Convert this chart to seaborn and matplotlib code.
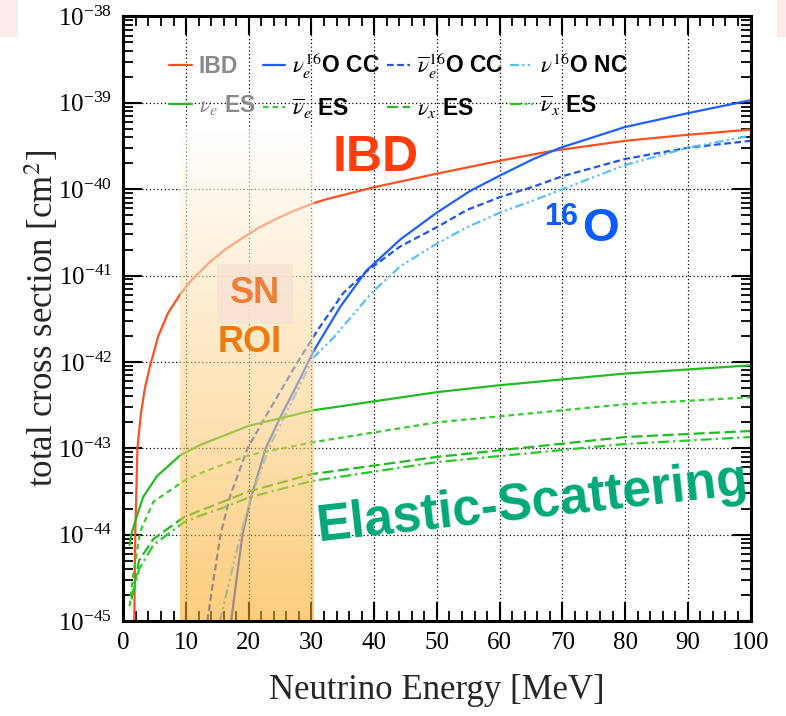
import numpy as np
import pandas as pd
import matplotlib
matplotlib.use("Agg")
import matplotlib.pyplot as plt
import seaborn as sns
from matplotlib.lines import Line2D
from matplotlib.patches import Rectangle
from matplotlib.ticker import LogLocator, MultipleLocator, NullFormatter

# Neutrino energy [MeV] and log10(cross section / cm^2)
ibd_E = [1.75, 1.9, 2.25, 2.8, 3.45, 4.25, 5.57, 7.17, 9.03, 10.9, 13.55, 16.2, 18.9, 21.5,
         24.2, 26.9, 30, 32.2, 39.8, 50, 60.1, 68.1, 80, 90, 100]
ibd_log = [-45.0, -44.0, -43.0, -42.6, -42.3, -42.05, -41.70, -41.43, -41.22, -41.05, -40.86,
           -40.70, -40.57, -40.45, -40.35, -40.26, -40.17, -40.12, -39.98, -39.82, -39.67,
           -39.56, -39.44, -39.37, -39.31]

o16_nue_E = [17.2, 17.9, 19.0, 20.4, 22.7, 25.1, 28, 30.3, 34.6, 38.8, 44.2, 50, 55.3, 60.1,
             65.4, 69.7, 80, 90, 100]
o16_nue_log = [-45.0, -44.6, -44.0, -43.56, -43.0, -42.63, -42.22, -41.88, -41.36, -40.94,
               -40.58, -40.27, -40.02, -39.84, -39.65, -39.52, -39.28, -39.12, -38.97]

o16_nuebar_E = [13.4, 14.2, 15.5, 17.0, 19.8, 22.7, 27.8, 31.0, 35.1, 38.8, 44.2, 50, 54.8,
                60.1, 65.4, 70, 80, 90, 100]
o16_nuebar_log = [-45.0, -44.6, -44.0, -43.56, -43.0, -42.63, -42.0, -41.63, -41.2, -40.95,
                  -40.66, -40.44, -40.24, -40.09, -39.97, -39.85, -39.65, -39.52, -39.44]

o16_nc_E = [15.4, 18.7, 20.4, 23.2, 30.3, 33.5, 39.6, 44.2, 50, 54.8, 60.1, 65.4, 70, 80,
            90, 100]
o16_nc_log = [-45.0, -44.0, -43.56, -43.0, -41.95, -41.72, -41.2, -40.89, -40.63, -40.44,
              -40.27, -40.13, -40.0, -39.72, -39.52, -39.38]

es_nue_E = [1.0, 1.25, 2.4, 3.2, 5.4, 9.1, 12.3, 20, 30.3, 50, 60, 80, 100]
es_nue_log = [-44.12, -44.0, -43.73, -43.56, -43.32, -43.08, -42.96, -42.74, -42.56,
              -42.35, -42.27, -42.135, -42.04]

es_nuebar_E = [1.0, 1.6, 2.7, 4.8, 9.6, 12.3, 15.5, 20, 30.2, 50, 80, 100]
es_nuebar_log = [-44.83, -44.45, -43.96, -43.62, -43.38, -43.29, -43.2, -43.08, -42.93,
                 -42.7, -42.49, -42.41]

es_nux_E = [1.3, 2.5, 4.8, 9.6, 12.3, 15.5, 20, 30, 50, 80, 100]
es_nux_log = [-44.75, -44.3, -44.05, -43.8, -43.72, -43.63, -43.5, -43.3, -43.1, -42.87, -42.8]

es_nuxbar_E = [1.5, 2.5, 4.8, 9.6, 12.3, 15.5, 20, 30, 50, 80, 100]
es_nuxbar_log = [-44.7, -44.4, -44.12, -43.86, -43.78, -43.7, -43.57, -43.38, -43.16, -42.95, -42.87]

roi_range = (9.0, 30.4)
roi_top_log = -39.29

sns.set_theme(style="ticks")
plt.rcParams["font.family"] = ["Liberation Serif", "DejaVu Serif"]
plt.rcParams["mathtext.fontset"] = "stix"

fig = plt.figure(figsize=(7.86, 7.16), dpi=100)
ax = fig.add_axes([0.1569, 0.1327, 0.798, 0.8443])

# faint pink patches in the top corners of the original screenshot
fig.patches.append(Rectangle((0, 1 - 36 / 716), 17 / 786, 36 / 716, transform=fig.transFigure,
                             color="#fcebeb", zorder=0))
fig.patches.append(Rectangle((777 / 786, 1 - 36 / 716), 9 / 786, 36 / 716, transform=fig.transFigure,
                             color="#fcebeb", zorder=0))

curves = [
    ("IBD", ibd_E, ibd_log, "#ff5020", "-"),
    ("nue_O", o16_nue_E, o16_nue_log, "#1f5fff", "-"),
    ("nuebar_O", o16_nuebar_E, o16_nuebar_log, "#1f55e8", (0, (3, 1.6))),
    ("nc_O", o16_nc_E, o16_nc_log, "#55bfff", (0, (4, 1.5, 1, 1.5, 1, 1.5))),
    ("nue_ES", es_nue_E, es_nue_log, "#22bb22", "-"),
    ("nuebar_ES", es_nuebar_E, es_nuebar_log, "#33cc33", (0, (2.5, 1.8))),
    ("nux_ES", es_nux_E, es_nux_log, "#22bb22", (0, (5, 2))),
    ("nuxbar_ES", es_nuxbar_E, es_nuxbar_log, "#22cc22", (0, (5, 1.8, 1, 1.8))),
]

for name, E, lg, col, ls in curves:
    df = pd.DataFrame({"E": E, "sigma": 10.0 ** np.array(lg)})
    sns.lineplot(data=df, x="E", y="sigma", ax=ax, color=col, linestyle=ls, lw=1.6,
                 sort=False, zorder=2)

ax.set_yscale("log")
ax.set_xlim(0, 100)
ax.set_ylim(1e-45, 1e-38)

# SN region of interest: band going from white (top) to orange (bottom), laid over the curves
n_slices = 120
edges = np.linspace(roi_top_log, -45.0, n_slices + 1)
top_c = np.array([1.0, 1.0, 1.0])
bot_c = np.array([250, 168, 28]) / 255
for i in range(n_slices):
    f = (i + 0.5) / n_slices
    ax.fill_between(list(roi_range), 10 ** edges[i + 1], 10 ** edges[i],
                    color=top_c + f * (bot_c - top_c), alpha=0.57, lw=0, zorder=3)

# grid and ROOT-like ticks
ax.grid(True, which="major", color="black", linestyle=(0, (1, 2)), linewidth=0.9)
ax.xaxis.set_major_locator(MultipleLocator(10))
ax.xaxis.set_minor_locator(MultipleLocator(2))
ax.yaxis.set_major_locator(LogLocator(base=10, numticks=20))
ax.yaxis.set_minor_locator(LogLocator(base=10, subs=np.arange(2, 10), numticks=20))
ax.yaxis.set_minor_formatter(NullFormatter())
ax.tick_params(which="both", direction="in", top=True, right=True, colors="black")
ax.tick_params(which="major", length=14, width=1.5, labelsize=18, pad=8)
ax.tick_params(which="minor", length=7, width=1.3)
for sp in ax.spines.values():
    sp.set_linewidth(2.2)
    sp.set_color("black")
    sp.set_zorder(6)

ax.set_xlabel("Neutrino Energy [MeV]", fontsize=25, labelpad=14)
ax.set_ylabel("total cross section [cm$^2$]", fontsize=25, labelpad=-2)

# legend (filled column by column: 4 columns x 2 rows)
sans = "Liberation Sans"
order = [0, 4, 1, 5, 2, 6, 3, 7]
handles = [Line2D([], [], color=curves[k][3], ls=curves[k][4], lw=1.6) for k in order]
labels = ["IBD", r"$\nu_e$ ES", r"$\nu_e^{16}$O CC",
          r"$\overline{\nu}_e$ ES", r"$\overline{\nu}_e^{16}$O CC",
          r"$\nu_x$ ES", r"$\nu^{16}$O NC", r"$\overline{\nu}_x$ ES"]
leg = ax.legend(handles, labels, ncol=4, loc="upper left", bbox_to_anchor=(0.04, 0.978),
                frameon=False, handlelength=1.0, handletextpad=0.3, columnspacing=0.3,
                labelspacing=0.65, prop={"family": sans, "weight": "bold", "size": 16.5})
leg.set_zorder(7)
for txt, col in zip(leg.get_texts(), ["#8a8a8a", "#8a8a8a"] + ["black"] * 6):
    txt.set_color(col)

# annotations
ax.text(40.3, 10 ** -39.79, "IBD", color="#ff3d0d", fontsize=36, weight="bold", family=sans,
        ha="center", va="baseline", zorder=5)
ax.text(72.55, 10 ** -40.413, "16", color="#0a5cff", fontsize=22, weight="bold", family=sans,
        ha="right", va="baseline", zorder=5)
ax.text(73.1, 10 ** -40.604, "O", color="#0a5cff", fontsize=34, weight="bold", family=sans,
        ha="left", va="baseline", zorder=5)
ax.text(21.0, 10 ** -41.32, "SN", color="#ea7f35", fontsize=26, weight="bold", family=sans,
        ha="center", va="baseline", zorder=5,
        bbox=dict(boxstyle="square,pad=0.35", fc="#f8e2d4", ec="none", alpha=0.85))
ax.text(20.2, 10 ** -41.88, "ROI", color="#f07a12", fontsize=26, weight="bold", family=sans,
        ha="center", va="baseline", zorder=5)
ax.text(31.05, 10 ** -44.08, "Elastic-Scattering", color="#00a878", fontsize=37, weight="bold",
        family=sans, ha="left", va="baseline", rotation=6.3, rotation_mode="anchor", zorder=5)

fig.savefig("out.png", dpi=100)
